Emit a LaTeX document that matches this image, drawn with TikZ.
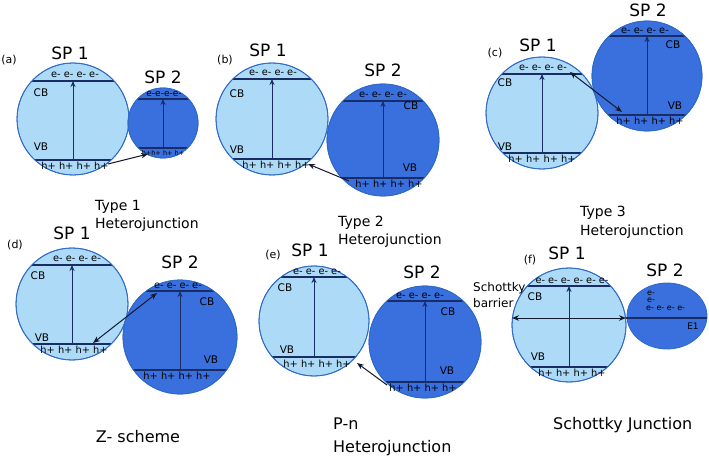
\documentclass[tikz,border=0pt]{standalone}
\usepackage{fontspec}
\setmainfont{DejaVu Sans}
\usetikzlibrary{arrows.meta,shapes.geometric}
\definecolor{lightfill}{RGB}{172,218,247}
\definecolor{darkfill}{RGB}{58,112,222}
\definecolor{rimblue}{RGB}{45,105,200}
\definecolor{bandline}{RGB}{25,45,100}
\definecolor{arrowcol}{RGB}{20,25,50}
\newcommand\spball[7]{%
  \node[#2, minimum size=2*#5pt] (#1) at (#3,#4) {};
  \begin{scope}
    \clip (#3,#4) circle[radius=#5pt];
    \draw[bandln] (#3-#5,#6) -- (#3+#5,#6);
    \draw[bandln] (#3-#5,#7) -- (#3+#5,#7);
  \end{scope}
  \draw[draw=rimblue,line width=0.8pt] (#3,#4) circle[radius=#5pt];
  \coordinate (#1cb) at (#3,#6);
  \coordinate (#1vb) at (#3,#7);
}
\begin{document}
\begin{tikzpicture}[x=1pt,y=-1pt,
  lightsp/.style={circle,fill=lightfill,draw=rimblue,line width=0.8pt,inner sep=0},
  darksp/.style={circle,fill=darkfill,draw=rimblue,line width=0.8pt,inner sep=0},
  bandln/.style={draw=bandline,line width=1.2pt},
  vexc/.style={-{Stealth[length=6pt,width=5pt]},draw=bandline,line width=1pt},
  xfer/.style={-{Stealth[length=7pt,width=5.5pt]},draw=arrowcol,line width=1pt},
  xferb/.style={{Stealth[length=7pt,width=5.5pt]}-{Stealth[length=7pt,width=5.5pt]},draw=arrowcol,line width=1pt},
  sptitle/.style={font=\fontsize{17}{19}\selectfont,inner sep=0},
  plabel/.style={font=\fontsize{11}{13}\selectfont,inner sep=0},
  bandlab/.style={font=\fontsize{10.5}{12}\selectfont,inner sep=0},
  carrier/.style={font=\fontsize{9.8}{11}\selectfont,inner sep=0},
  tinycar/.style={font=\fontsize{8}{9}\selectfont,inner sep=0},
  typelab/.style={font=\fontsize{14}{17}\selectfont,inner sep=0,anchor=west},
  bottomlab/.style={font=\fontsize{16}{19}\selectfont,inner sep=0},
]
\useasboundingbox (0,0) rectangle (709,470);
\fill[white] (0,0) rectangle (709,470);

% ---------- (a)
\node[plabel] (la) at (9,60) {(a)};
\node[sptitle] (ta1) at (70,53) {SP 1};
\spball{a1}{lightsp}{73}{119}{56}{81}{160}
\node[carrier] (ea1) at (75,75) {e- e- e- e-};
\node[bandlab] (cba1) at (41,93) {CB};
\node[bandlab] (vba1) at (41,147) {VB};
\node[carrier] (ha1) at (75,166) {h+ h+ h+ h+};
\draw[vexc] (a1vb) -- (a1cb);
\node[sptitle] (ta2) at (163,77) {SP 2};
\spball{a2}{darksp}{163}{123}{35}{99}{148}
\node[font=\fontsize{9}{10}\selectfont,inner sep=0] (ea2) at (164,94) {e-e-e-e-};
\node[font=\fontsize{6.5}{7}\selectfont,inner sep=0] (ha2) at (163,153) {h+h+ h+ h+};
\draw[vexc] (a2vb) -- (a2cb);
\coordinate (as) at (108,164);
\coordinate (ae) at (148,154);
\draw[xfer] (as) -- (ae);

% ---------- (b)
\node[plabel] (lb) at (225,60) {(b)};
\node[sptitle] (tb1) at (268,50) {SP 1};
\spball{b1}{lightsp}{272}{119}{56}{79}{159}
\node[carrier] (eb1) at (273,73) {e- e- e- e-};
\node[bandlab] (cbb1) at (237,94) {CB};
\node[bandlab] (vbb1) at (237,150) {VB};
\node[carrier] (hb1) at (276,165) {h+ h+ h+ h+};
\draw[vexc] (b1vb) -- (b1cb);
\node[sptitle] (tb2) at (383,70) {SP 2};
\spball{b2}{darksp}{383}{140}{56}{101}{178}
\node[carrier] (eb2) at (383,95) {e- e- e- e-};
\node[bandlab] (cbb2) at (411,106) {CB};
\node[bandlab] (vbb2) at (410,168) {VB};
\node[carrier] (hb2) at (389,184) {h+ h+ h+ h+};
\draw[vexc] (b2vb) -- (b2cb);
\coordinate (bs) at (349,181);
\coordinate (be) at (308,164);
\draw[xfer] (bs) -- (be);

% ---------- (c)
\node[plabel] (lc) at (495,53) {(c)};
\node[sptitle] (tc1) at (538,45) {SP 1};
\spball{c1}{lightsp}{542}{113}{56}{74}{153}
\node[carrier] (ec1) at (543,68) {e- e- e- e-};
\node[bandlab] (cbc1) at (505,83) {CB};
\node[bandlab] (vbc1) at (505,147) {VB};
\node[carrier] (hc1) at (542,159) {h+ h+ h+ h+};
\draw[vexc] (c1vb) -- (c1cb);
\node[sptitle] (tc2) at (648,10) {SP 2};
\spball{c2}{darksp}{647}{76}{55}{36}{115}
\node[carrier] (ec2) at (645,31) {e- e- e- e-};
\node[bandlab] (cbc2) at (673,45) {CB};
\node[bandlab] (vbc2) at (675,106) {VB};
\node[carrier] (hc2) at (650,121) {h+ h+ h+ h+};
\draw[vexc] (c2vb) -- (c2cb);
\coordinate (cs) at (570,72);
\coordinate (ce) at (622,112);
\draw[xferb] (cs) -- (ce);

% ---------- (d)
\node[typelab] (ty1a) at (95,207) {Type 1};
\node[typelab] (ty1b) at (95,225) {Heterojunction};
\node[plabel] (ld) at (15,245) {(d)};
\node[sptitle] (td1) at (72,233) {SP 1};
\spball{d1}{lightsp}{72}{304}{56}{265}{344}
\node[carrier] (ed1) at (77,259) {e- e- e- e-};
\node[bandlab] (cbd1) at (38,276) {CB};
\node[bandlab] (vbd1) at (42,338) {VB};
\node[carrier] (hd1) at (74,350) {h+ h+ h+ h+};
\draw[vexc] (d1vb) -- (d1cb);
\node[sptitle] (td2) at (180,262) {SP 2};
\spball{d2}{darksp}{180}{337}{57}{291}{370}
\node[carrier] (ed2) at (178,286) {e- e- e- e-};
\node[bandlab] (cbd2) at (207,302) {CB};
\node[bandlab] (vbd2) at (211,360) {VB};
\node[carrier] (hd2) at (177,376) {h+ h+ h+ h+};
\draw[vexc] (d2vb) -- (d2cb);
\coordinate (ds) at (93,343);
\coordinate (de) at (157,293);
\draw[xferb] (ds) -- (de);

% ---------- (e)
\node[typelab] (ty2a) at (338,223) {Type 2};
\node[typelab] (ty2b) at (338,241) {Heterojunction};
\node[plabel] (le) at (273,255) {(e)};
\node[sptitle] (te1) at (310,250) {SP 1};
\spball{e1}{lightsp}{314}{321}{55}{277}{357}
\node[carrier] (ee1) at (317,272) {e- e- e- e-};
\node[bandlab] (cbe1) at (285,288) {CB};
\node[bandlab] (vbe1) at (287,350) {VB};
\node[carrier] (he1) at (317,364) {h+ h+ h+ h+};
\draw[vexc] (e1vb) -- (e1cb);
\node[sptitle] (te2) at (422,272) {SP 2};
\spball{e2}{darksp}{425}{342}{56}{301}{382}
\node[carrier] (ee2) at (420,296) {e- e- e- e-};
\node[bandlab] (cbe2) at (448,312) {CB};
\node[bandlab] (vbe2) at (447,371) {VB};
\node[carrier] (he2) at (423,388) {h+ h+ h+ h+};
\draw[vexc] (e2vb) -- (e2cb);
\coordinate (es) at (387,385);
\coordinate (ee) at (357,363);
\draw[xfer] (es) -- (ee);

% ---------- (f)
\node[typelab] (ty3a) at (580,213) {Type 3};
\node[typelab] (ty3b) at (580,232) {Heterojunction};
\node[plabel] (lf) at (530,260) {(f)};
\node[sptitle] (tf1) at (567,253) {SP 1};
\spball{f1}{lightsp}{569}{325}{57}{286}{367}
\node[carrier] (ef1) at (572,281) {e- e- e- e- e- e-};
\node[bandlab] (cbf1) at (535,297) {CB};
\node[bandlab] (vbf1) at (538,357) {VB};
\node[carrier] (hf1) at (572,373) {h+ h+ h+ h+};
\draw[vexc] (f1vb) -- (f1cb);
\node[sptitle] (tf2) at (665,270) {SP 2};
\node[ellipse,fill=darkfill,draw=rimblue,line width=0.8pt,inner sep=0,minimum width=80pt,minimum height=66pt] (f2) at (667,316) {};
\node[tinycar] (ef2a) at (651,293) {e-};
\node[tinycar] (ef2b) at (651,300) {e-};
\node[tinycar,anchor=west] (ef2c) at (646,308) {e- e- e- e-};
\node[font=\fontsize{9}{10}\selectfont,inner sep=0] (e1lab) at (693,326) {E1};
\coordinate (fl) at (512,318);
\coordinate (fr) at (626,318);
\coordinate (fe) at (707,318);
\draw[bandln] (fr) -- (fe);
\draw[xferb] (fl) -- (fr);
\node[font=\fontsize{12}{14}\selectfont,inner sep=0,anchor=west] (sch1) at (473,288) {Schottky};
\node[font=\fontsize{12}{14}\selectfont,inner sep=0,anchor=west] (sch2) at (473,303) {barrier};

% ---------- bottom captions
\node[bottomlab] (capz) at (138,437) {Z- scheme};
\node[bottomlab,anchor=west] (cappn1) at (333,424) {P-n};
\node[bottomlab,anchor=west] (cappn2) at (333,448) {Heterojunction};
\node[bottomlab,anchor=west] (capsj) at (553,425) {Schottky Junction};
\end{tikzpicture}
\end{document}
